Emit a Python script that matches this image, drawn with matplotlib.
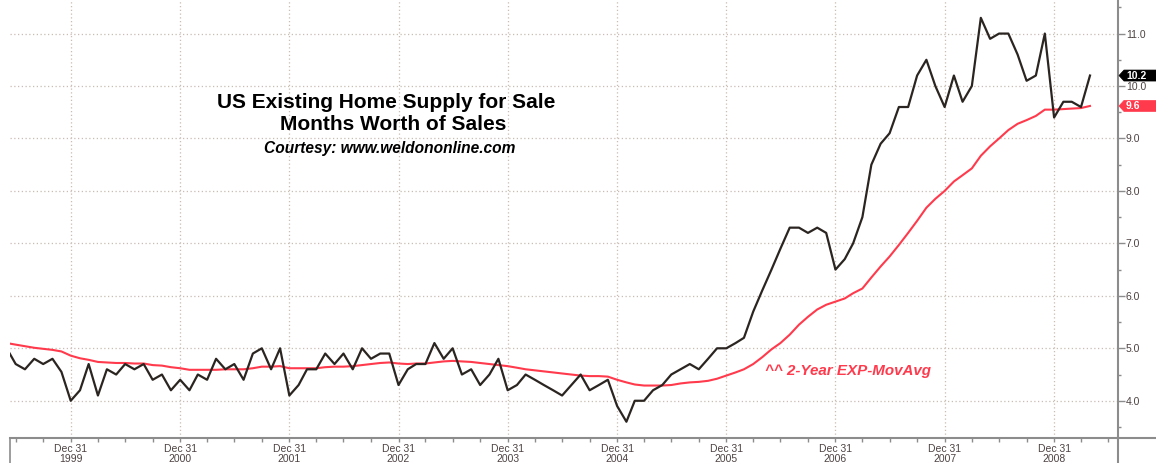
import matplotlib
matplotlib.use('Agg')
import matplotlib.pyplot as plt
import matplotlib.ticker as mticker
from matplotlib.lines import Line2D
from matplotlib.patches import Polygon
import pandas as pd

plt.rcParams['font.family'] = ['Liberation Sans', 'DejaVu Sans']

# ---------------- data ----------------
months = pd.date_range('1999-05-31', periods=120, freq=pd.offsets.MonthEnd())

supply = [
    5.0, 4.7, 4.6, 4.8, 4.7, 4.8, 4.55, 4.0,                        # 1999 May-Dec
    4.2, 4.7, 4.1, 4.6, 4.5, 4.7, 4.6, 4.7, 4.4, 4.5, 4.2, 4.4,      # 2000
    4.2, 4.5, 4.4, 4.8, 4.6, 4.7, 4.4, 4.9, 5.0, 4.6, 5.0, 4.1,      # 2001
    4.3, 4.6, 4.6, 4.9, 4.7, 4.9, 4.6, 5.0, 4.8, 4.9, 4.9, 4.3,      # 2002
    4.6, 4.7, 4.7, 5.1, 4.8, 5.0, 4.5, 4.6, 4.3, 4.5, 4.8, 4.2,      # 2003
    4.3, 4.5, 4.4, 4.3, 4.2, 4.1, 4.3, 4.5, 4.2, 4.3, 4.4, 3.9,      # 2004
    3.6, 4.0, 4.0, 4.2, 4.3, 4.5, 4.6, 4.7, 4.6, 4.8, 5.0, 5.0,      # 2005
    5.1, 5.2, 5.7, 6.1, 6.5, 6.9, 7.3, 7.3, 7.2, 7.3, 7.2, 6.5,      # 2006
    6.7, 7.0, 7.5, 8.5, 8.9, 9.1, 9.6, 9.6, 10.2, 10.5, 10.0, 9.6,   # 2007
    10.2, 9.7, 10.0, 11.3, 10.9, 11.0, 11.0, 10.6, 10.1, 10.2, 11.0, 9.4,  # 2008
    9.7, 9.7, 9.6, 10.2,                                             # 2009
]

ema_2yr = [
    5.10, 5.07, 5.04, 5.01, 4.99, 4.97, 4.94,
    4.86, 4.81, 4.78, 4.74, 4.73, 4.72, 4.72, 4.71, 4.71, 4.68, 4.67, 4.64, 4.62,
    4.59, 4.59, 4.59, 4.59, 4.60, 4.60, 4.60, 4.62, 4.65, 4.65, 4.66, 4.62,
    4.62, 4.62, 4.62, 4.64, 4.65, 4.65, 4.66, 4.68, 4.70, 4.72, 4.73, 4.71,
    4.70, 4.71, 4.71, 4.73, 4.75, 4.76, 4.75, 4.74, 4.72, 4.70, 4.68, 4.66,
    4.63, 4.60, 4.58, 4.56, 4.54, 4.52, 4.50, 4.48, 4.47, 4.47, 4.46, 4.40,
    4.35, 4.31, 4.29, 4.29, 4.29, 4.30, 4.33, 4.35, 4.36, 4.38, 4.42, 4.48,
    4.54, 4.60, 4.70, 4.83, 4.98, 5.10, 5.26, 5.45, 5.60, 5.74, 5.83, 5.89,
    5.95, 6.05, 6.14, 6.35, 6.56, 6.75, 6.97, 7.20, 7.43, 7.68, 7.85, 8.00,
    8.18, 8.30, 8.43, 8.67, 8.85, 9.00, 9.16, 9.28, 9.35, 9.43, 9.55, 9.55,
    9.56, 9.57, 9.58, 9.62,
]

tick_years = ['1999', '2000', '2001', '2002', '2003', '2004', '2005', '2006', '2007', '2008']
y_ticks = [4, 5, 6, 7, 8, 9, 10, 11]

title_line1 = 'US Existing Home Supply for Sale'
title_line2 = 'Months Worth of Sales'
courtesy = 'Courtesy: www.weldononline.com'
ema_label = '^^ 2-Year EXP-MovAvg'

# ---------------- figure ----------------
W, H = 1156, 463
fig = plt.figure(figsize=(W / 100, H / 100), dpi=100)
ax_left, ax_right, ax_bottom = 10, 1117.5, 438
ax = fig.add_axes([ax_left / W, (H - ax_bottom) / H, (ax_right - ax_left) / W, ax_bottom / H])

AXIS_COL = '#8c8c8c'
TXT_COL = '#4d4242'
GRID_COL = '#c9bcb3'
BLACK = '#2b2521'
RED = '#ff3a4c'

ax.plot(months, ema_2yr, color=RED, lw=1.5, zorder=3)
ax.plot(months, supply, color=BLACK, lw=1.6, zorder=4)

# x ticks
tick_dates = [pd.Timestamp(f'{y}-12-31') for y in tick_years]
ax.set_xticks(tick_dates)
ax.set_xticklabels([f'Dec 31\n{y}' for y in tick_years])
quarters = [d for d in pd.date_range('1999-03-31', '2009-12-31', freq=pd.offsets.QuarterEnd())
            if d.month != 12]
ax.set_xticks(quarters, minor=True)
ax.tick_params(axis='x', which='both', direction='out', color=AXIS_COL, width=1,
               labelsize=7.5, labelcolor=TXT_COL, pad=1.5)
ax.tick_params(axis='x', which='major', length=3)
ax.tick_params(axis='x', which='minor', length=3)
for lbl in ax.get_xticklabels():
    lbl.set_linespacing(1.0)

# y ticks on right
ax.yaxis.tick_right()
ax.set_yticks(y_ticks)
ax.yaxis.set_major_formatter(mticker.FormatStrFormatter('%.1f'))
ax.yaxis.set_minor_locator(mticker.FixedLocator([v + 0.5 for v in [3] + y_ticks]))
ax.tick_params(axis='y', which='major', direction='out', length=5, width=1, color=AXIS_COL,
               labelsize=7.5, labelcolor=TXT_COL, pad=1)
ax.tick_params(axis='y', which='minor', direction='out', length=2, width=1, color=AXIS_COL)

# limits (after ticks so they are not expanded)
ref = pd.Timestamp('1999-12-31')
ax.set_xlim(ref - pd.Timedelta(days=203), ref + pd.Timedelta(days=3500))
ax.set_ylim(3.29, 11.64)

# grid
ax.grid(True, which='major', color=GRID_COL, linestyle=(0, (1, 2)), lw=0.9, zorder=1)

for s in ['top', 'left']:
    ax.spines[s].set_visible(False)
for s in ['bottom', 'right']:
    ax.spines[s].set_color(AXIS_COL)
    ax.spines[s].set_linewidth(1.5)

# axis-line extensions outside the plot
yb = (H - ax_bottom) / H
fig.add_artist(Line2D([ax_right / W, 1.0], [yb, yb], color=AXIS_COL, lw=1.5))
fig.add_artist(Line2D([ax_right / W, ax_right / W], [0, yb], color=AXIS_COL, lw=1.5))
fig.add_artist(Line2D([ax_left / W, ax_left / W], [0, yb], color=AXIS_COL, lw=1.2))

# titles
fig.text(386 / W, 1 - 103 / H, title_line1, ha='center', va='center',
         fontsize=15, fontweight='bold', color='black')
fig.text(393 / W, 1 - 125 / H, title_line2, ha='center', va='center',
         fontsize=15, fontweight='bold', color='black')
fig.text(390 / W, 1 - 148 / H, courtesy, ha='center', va='center',
         fontsize=11.2, fontweight='bold', fontstyle='italic', color='black')
fig.text(765 / W, 1 - 371 / H, ema_label, ha='left', va='center',
         fontsize=10.9, fontweight='bold', fontstyle='italic', color=RED)

# last-value tags
fig.canvas.draw()
for val, col in [(supply[-1], 'black'), (ema_2yr[-1], RED)]:
    yp = ax.transData.transform((0, val))[1]
    h = 5.5
    x0, x1, x2 = 1119, 1124, 1157
    pts = [(x0, yp), (x1, yp + h), (x2, yp + h), (x2, yp - h), (x1, yp - h)]
    fig.add_artist(Polygon([(px / W, py / H) for px, py in pts], closed=True,
                           transform=fig.transFigure, facecolor=col, edgecolor=col, lw=0.5))
    fig.text(1126 / W, yp / H, f'{val:.1f}', ha='left', va='center', fontsize=7.5,
             fontweight='bold', color='white')

fig.savefig('out.png', dpi=100)
